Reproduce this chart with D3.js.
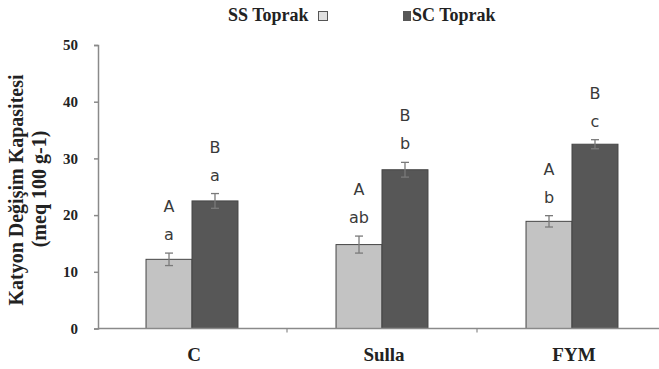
<!DOCTYPE html>
<html>
<head>
<meta charset="utf-8">
<script src="https://cdn.jsdelivr.net/npm/d3@7"></script>
<style>
  body { margin: 0; background: #fff; }
  svg { display: block; }
</style>
</head>
<body>
<div id="chart"></div>
<script>
// categories and series
const categories = ['C', 'Sulla', 'FYM'];
const seriesNames = ['SS Toprak', 'SC Toprak'];
const ssValues = [12.2, 14.8, 18.9];
const scValues = [22.5, 28.0, 32.5];
const ssErrors = [1.1, 1.5, 1.0];
const scErrors = [1.3, 1.3, 0.8];
const ssLetters = [['A', 'a'], ['A', 'ab'], ['A', 'b']];
const scLetters = [['B', 'a'], ['B', 'b'], ['B', 'c']];
const yTicks = [0, 10, 20, 30, 40, 50];

const W = 659, H = 369;
const colors = ['#c3c3c3', '#575757'];

const svg = d3.select('#chart').append('svg')
  .attr('width', W)
  .attr('height', H);

// scales
const y = d3.scaleLinear().domain([0, 50]).range([328.5, 45]);
const x0 = d3.scaleBand().domain(categories).range([97, 667])
  .paddingInner(0.516).paddingOuter(0.258);
const x1 = d3.scaleBand().domain(seriesNames).range([0, x0.bandwidth()]);

const rows = categories.map((c, i) => ({
  cat: c,
  bars: [
    {s: seriesNames[0], v: ssValues[i], e: ssErrors[i], lab: ssLetters[i], col: colors[0]},
    {s: seriesNames[1], v: scValues[i], e: scErrors[i], lab: scLetters[i], col: colors[1]}
  ]
}));

// y axis
const yAxis = svg.append('g')
  .attr('transform', 'translate(98,0)')
  .call(d3.axisLeft(y).tickValues(yTicks).tickSize(4).tickPadding(16));
yAxis.select('.domain').attr('stroke', '#8a8a8a').attr('stroke-width', 1.5);
yAxis.selectAll('.tick line').attr('stroke', '#8a8a8a').attr('stroke-width', 1.5);
yAxis.selectAll('.tick text')
  .attr('font-family', '"Liberation Serif", "Times New Roman", serif')
  .attr('font-weight', 'bold')
  .attr('font-size', 15)
  .attr('fill', '#222');

// bars
const groups = svg.append('g').selectAll('g')
  .data(rows)
  .join('g')
  .attr('transform', d => `translate(${x0(d.cat)},0)`);

groups.selectAll('rect')
  .data(d => d.bars)
  .join('rect')
  .attr('x', d => x1(d.s))
  .attr('y', d => y(d.v))
  .attr('width', x1.bandwidth())
  .attr('height', d => y(0) - y(d.v))
  .attr('fill', d => d.col)
  .attr('stroke', '#454545')
  .attr('stroke-width', 1);

// error bars
const eb = groups.selectAll('g.err')
  .data(d => d.bars)
  .join('g')
  .attr('class', 'err')
  .attr('stroke', '#7a7a7a')
  .attr('stroke-width', 1.3);
eb.append('line')
  .attr('x1', d => x1(d.s) + x1.bandwidth() / 2)
  .attr('x2', d => x1(d.s) + x1.bandwidth() / 2)
  .attr('y1', d => y(d.v + d.e))
  .attr('y2', d => y(d.v - d.e));
eb.append('line')
  .attr('x1', d => x1(d.s) + x1.bandwidth() / 2 - 4)
  .attr('x2', d => x1(d.s) + x1.bandwidth() / 2 + 4)
  .attr('y1', d => y(d.v + d.e))
  .attr('y2', d => y(d.v + d.e));
eb.append('line')
  .attr('x1', d => x1(d.s) + x1.bandwidth() / 2 - 4)
  .attr('x2', d => x1(d.s) + x1.bandwidth() / 2 + 4)
  .attr('y1', d => y(d.v - d.e))
  .attr('y2', d => y(d.v - d.e));

// significance letters
const letterFont = '"DejaVu Sans", Verdana, sans-serif';
groups.selectAll('text.up')
  .data(d => d.bars)
  .join('text')
  .attr('class', 'up')
  .attr('x', d => x1(d.s) + x1.bandwidth() / 2)
  .attr('y', d => y(d.v + d.e) - 41)
  .attr('text-anchor', 'middle')
  .attr('font-family', letterFont)
  .attr('font-size', 16)
  .attr('fill', '#3a3a3a')
  .text(d => d.lab[0]);
groups.selectAll('text.low')
  .data(d => d.bars)
  .join('text')
  .attr('class', 'low')
  .attr('x', d => x1(d.s) + x1.bandwidth() / 2)
  .attr('y', d => y(d.v + d.e) - 13)
  .attr('text-anchor', 'middle')
  .attr('font-family', letterFont)
  .attr('font-size', 16)
  .attr('fill', '#3a3a3a')
  .text(d => d.lab[1]);

// x axis line and ticks between categories
svg.append('line')
  .attr('x1', 98).attr('x2', W)
  .attr('y1', y(0)).attr('y2', y(0))
  .attr('stroke', '#8a8a8a').attr('stroke-width', 1.5);
svg.append('g').selectAll('line')
  .data(categories.slice(0, -1))
  .join('line')
  .attr('x1', d => x0(d) + x0.bandwidth() / 2 + x0.step() / 2)
  .attr('x2', d => x0(d) + x0.bandwidth() / 2 + x0.step() / 2)
  .attr('y1', y(0)).attr('y2', y(0) + 4)
  .attr('stroke', '#8a8a8a').attr('stroke-width', 1.2);

const serif = '"Liberation Serif", "Times New Roman", serif';
svg.append('g').selectAll('text')
  .data(categories)
  .join('text')
  .attr('x', d => x0(d) + x0.bandwidth() / 2 + 2)
  .attr('y', 361)
  .attr('text-anchor', 'middle')
  .attr('font-family', serif)
  .attr('font-weight', 'bold')
  .attr('font-size', 19)
  .attr('fill', '#222')
  .text(d => d);

// y axis title
const yTitle = svg.append('g')
  .attr('font-family', serif)
  .attr('font-weight', 'bold')
  .attr('font-size', 20)
  .attr('fill', '#222')
  .attr('text-anchor', 'middle');
yTitle.append('text')
  .attr('transform', 'translate(23,190) rotate(-90)')
  .text('Katyon Değişim Kapasitesi');
yTitle.append('text')
  .attr('transform', 'translate(46,189) rotate(-90)')
  .text('(meq 100 g-1)');

// legend
const legend = svg.append('g')
  .attr('font-family', serif)
  .attr('font-weight', 'bold')
  .attr('font-size', 18)
  .attr('fill', '#222');
legend.append('text').attr('x', 228).attr('y', 21).text(seriesNames[0]);
legend.append('rect')
  .attr('x', 318.5).attr('y', 11.5).attr('width', 9).attr('height', 9)
  .attr('fill', '#e0e0e0').attr('stroke', '#555').attr('stroke-width', 1);
legend.append('rect')
  .attr('x', 403).attr('y', 11).attr('width', 8).attr('height', 10)
  .attr('fill', colors[1]);
legend.append('text').attr('x', 412).attr('y', 21).text(seriesNames[1]);
</script>
</body>
</html>
